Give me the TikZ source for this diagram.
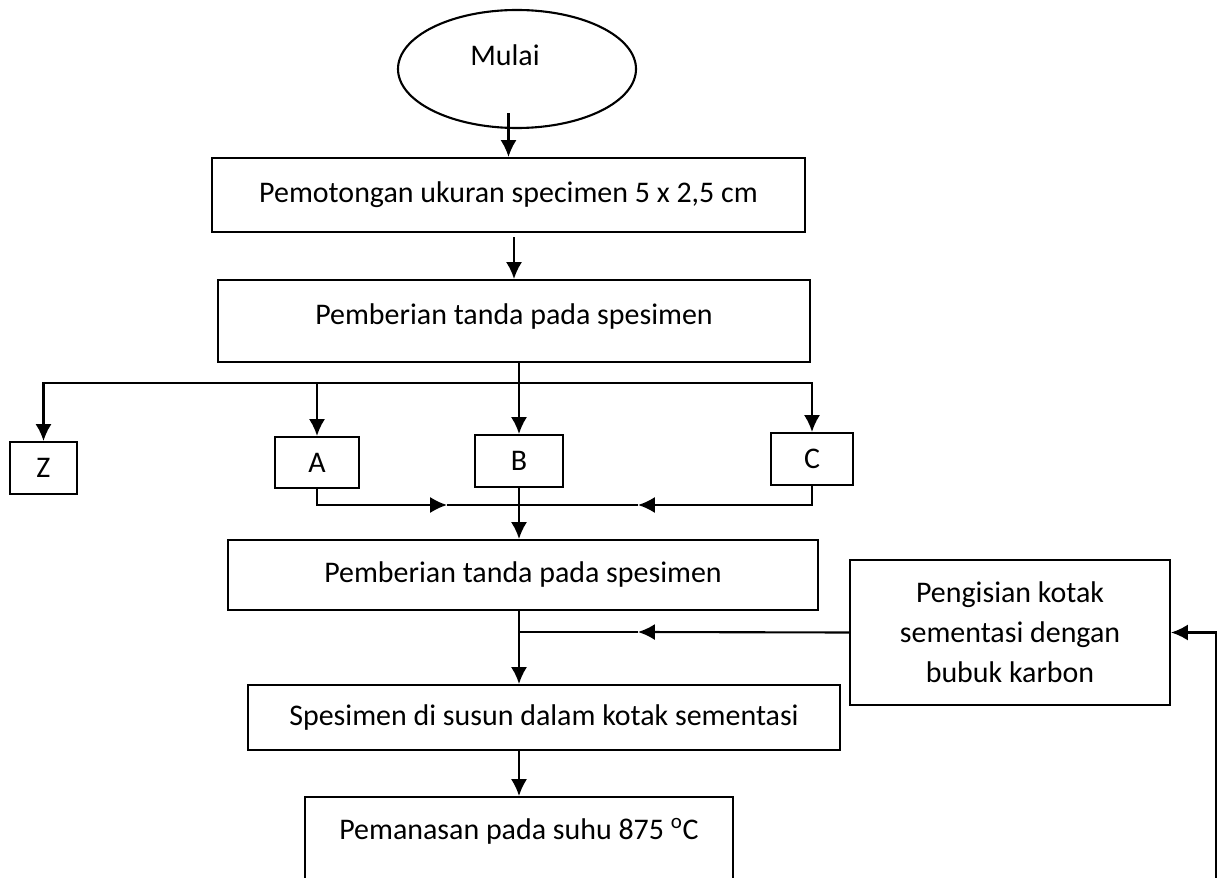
\documentclass[tikz,border=0pt]{standalone}
\usepackage{fontspec}
\setmainfont{Carlito}
\usepackage{tikz}
\usetikzlibrary{arrows,arrows.meta}
\usetikzlibrary{positioning}
\usetikzlibrary{shapes,calc}
\begin{document}
\begin{tikzpicture}[line width=1.5pt, >={Latex[length=0.42cm,width=0.4cm]},
  kotak/.style={draw, rectangle, inner sep=2pt, align=center, font=\fontsize{21.3}{28.5}\selectfont},
  oval/.style={draw, ellipse, font=\fontsize{21.3}{28.5}\selectfont}]
\path[use as bounding box, clip] (0,0) rectangle (30.425,-21.95);
\node[oval, minimum width=5.95cm, minimum height=2.95cm, text depth=0.7cm] (mulai) at (12.925,-1.725) {\hspace*{-0.6cm}Mulai};
\node[kotak, minimum width=14.825cm, minimum height=1.85cm] (potong) at (12.7125,-4.875) {Pemotongan ukuran specimen 5 x 2,5 cm};
\node[kotak, minimum width=14.8cm, minimum height=2.05cm, text depth=0.35cm] (tanda) at (12.85,-8.025) {Pemberian tanda pada spesimen};
\node[kotak, minimum width=1.675cm, minimum height=1.3cm] (z) at (1.0875,-11.7) {Z};
\node[kotak, minimum width=2.1cm, minimum height=1.275cm] (a) at (7.925,-11.5625) {A};
\node[kotak, minimum width=2.2cm, minimum height=1.3cm] (b) at (12.975,-11.525) {B};
\node[kotak, minimum width=2.05cm, minimum height=1.3cm] (c) at (20.3,-11.475) {C};
\node[kotak, minimum width=14.75cm, minimum height=1.75cm] (tanda2) at (13.075,-14.375) {Pemberian tanda pada spesimen};
\node[kotak, minimum width=8cm, minimum height=3.625cm] (isi) at (25.25,-15.8125) {Pengisian kotak\\sementasi dengan\\bubuk karbon};
\node[kotak, minimum width=14.8cm, minimum height=1.625cm] (susun) at (13.6,-17.9375) {Spesimen di susun dalam kotak sementasi};
\node[kotak, anchor=north, minimum width=10.7cm, inner ysep=0pt, text height=1.05cm, text depth=1.5cm] (panas) at (12.975,-19.9) {Pemanasan pada suhu 875 \textsuperscript{o}C};
\coordinate (split) at (12.975,-9.575);
\coordinate (ja) at (11.175,-12.625);
\coordinate (jc) at (15.95,-12.625);
\coordinate (jisi) at (15.95,-15.8);
\coordinate (m) at (12.975,-15.8);
\coordinate (back) at (30.39,-21.95);
\draw[->] ([yshift=0.4cm]mulai.south -| potong.north) -- (potong.north);
\draw[->] ([yshift=-0.1cm]potong.south -| tanda.north) -- (tanda.north);
\draw[->] (tanda.south -| b.north) -- (b.north);
\draw[->] (split) -| (z.north);
\draw[->] (split) -| (c.north);
\draw[->] (split -| a.north) -- (a.north);
\draw[->] (a.south) |- (ja);
\draw[->] (c.south) |- (jc);
\draw (ja) -- (jc);
\draw[->] (b.south) -- (b.south |- tanda2.north);
\draw[->] (m |- tanda2.south) -- (m |- susun.north);
\draw[->] (isi.west) -- (jisi);
\draw (jisi) -- (m);
\draw[->] (susun.south -| panas.north) -- (panas.north);
\draw[->] (back) |- (isi.east);
\end{tikzpicture}
\end{document}
